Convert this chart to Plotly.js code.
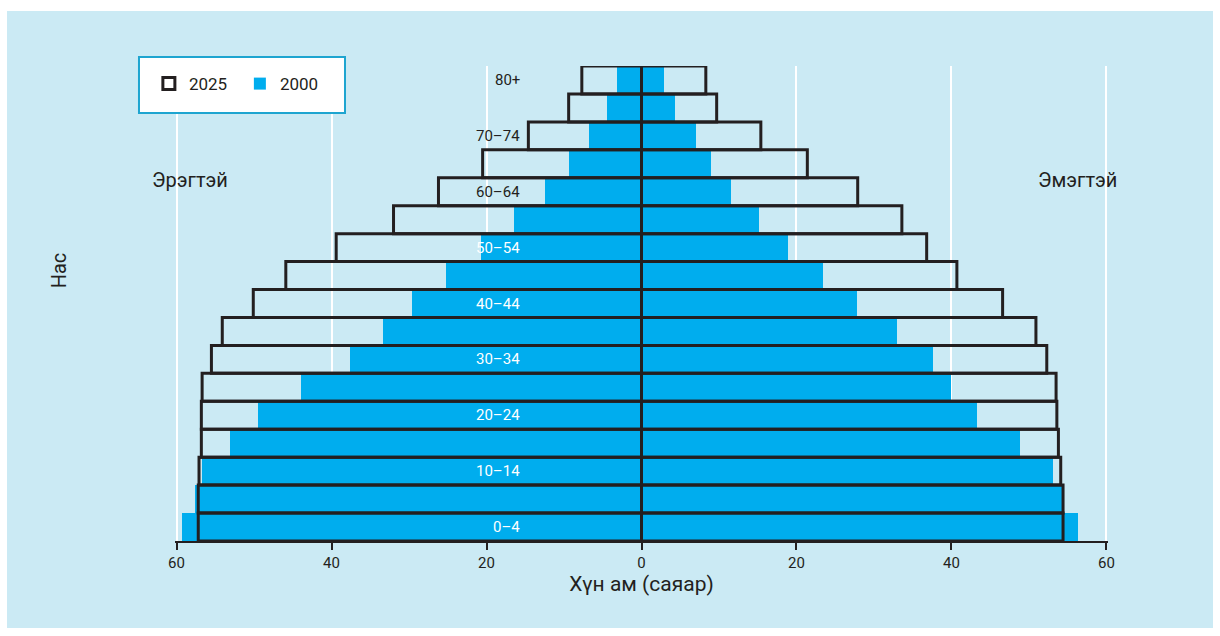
<!DOCTYPE html>
<html>
<head>
<meta charset="utf-8">
<script src="https://cdn.plot.ly/plotly-3.0.1.min.js"></script>
<style>
  html, body { margin: 0; padding: 0; background: #ffffff; width: 1220px; height: 636px; overflow: hidden; }
  #chart { position: absolute; left: 7px; top: 11px; width: 1206px; height: 617px; }
</style>
</head>
<body>
<div id="chart"></div>
<script>
// Age groups (bottom to top)
var ageGroups = ['0–4','5–9','10–14','15–19','20–24','25–29','30–34','35–39','40–44','45–49','50–54','55–59','60–64','65–69','70–74','75–79','80+'];

// Population, millions
var male2000   = [59.3, 57.6, 56.7, 53.1, 49.5, 43.9, 37.6, 33.3, 29.6, 25.2, 20.7, 16.5, 12.4, 9.3, 6.8, 4.4, 3.2];
var female2000 = [56.3, 54.3, 53.1, 48.8, 43.3, 39.9, 37.6, 33.0, 27.8, 23.4, 18.9, 15.1, 11.6, 9.0, 7.0, 4.3, 2.9];
var male2025   = [57.2, 57.2, 57.1, 56.8, 56.8, 56.7, 55.5, 54.1, 50.1, 45.9, 39.4, 32.0, 26.2, 20.5, 14.6, 9.4, 7.7];
var female2025 = [54.4, 54.4, 54.1, 53.8, 53.6, 53.5, 52.3, 50.9, 46.6, 40.7, 36.8, 33.6, 27.9, 21.4, 15.4, 9.7, 8.3];

var tickValues = [-60, -40, -20, 0, 20, 40, 60];
var tickLabels = ['60', '40', '20', '0', '20', '40', '60'];

var FONT = '"Roboto", "Liberation Sans", sans-serif';
var BLUE = '#00adee';
var DARK = '#231f20';

function neg(a) { return a.map(function (v) { return -v; }); }

var traces = [
  { type: 'bar', orientation: 'h', name: '2000', legendgroup: '2000', legendrank: 2,
    y: ageGroups, x: neg(male2000), marker: { color: BLUE, line: { width: 0 } }, hoverinfo: 'skip' },
  { type: 'bar', orientation: 'h', name: '2000', legendgroup: '2000', showlegend: false,
    y: ageGroups, x: female2000, marker: { color: BLUE, line: { width: 0 } }, hoverinfo: 'skip' },
  { type: 'bar', orientation: 'h', name: '2025', legendgroup: '2025', legendrank: 1,
    y: ageGroups, x: neg(male2025), marker: { color: 'rgba(0,0,0,0)', line: { color: DARK, width: 3 } }, hoverinfo: 'skip' },
  { type: 'bar', orientation: 'h', name: '2025', legendgroup: '2025', showlegend: false,
    y: ageGroups, x: female2025, marker: { color: 'rgba(0,0,0,0)', line: { color: DARK, width: 3 } }, hoverinfo: 'skip' }
];

var annotations = [];
for (var i = 0; i < ageGroups.length; i += 2) {
  annotations.push({
    x: -15.4, y: ageGroups[i], xref: 'x', yref: 'y', text: ageGroups[i], showarrow: false,
    xanchor: 'right', yanchor: 'middle',
    font: { family: FONT, size: 15, color: male2000[i] > 18 ? '#ffffff' : DARK }
  });
}
annotations.push({ x: -58.3, y: 0.76, xref: 'x', yref: 'paper', text: 'Эрэгтэй', showarrow: false,
  xanchor: 'center', yanchor: 'middle', font: { family: FONT, size: 20, color: DARK } });
annotations.push({ x: 56.3, y: 0.76, xref: 'x', yref: 'paper', text: 'Эмэгтэй', showarrow: false,
  xanchor: 'center', yanchor: 'middle', font: { family: FONT, size: 20, color: DARK } });
// Y axis title (placed above centre, as in the original)
annotations.push({ x: -0.124, y: 0.5705, xref: 'paper', yref: 'paper', text: 'Нас', showarrow: false,
  textangle: -90, xanchor: 'center', yanchor: 'middle', font: { family: FONT, size: 20, color: DARK } });

var layout = {
  width: 1206, height: 617,
  paper_bgcolor: '#cbeaf4', plot_bgcolor: 'rgba(0,0,0,0)',
  margin: { l: 168, r: 105, t: 55, b: 87 },
  barmode: 'overlay', bargap: 0,
  font: { family: FONT, color: DARK },
  xaxis: {
    range: [-60.2, 60.2], tickvals: tickValues, ticktext: tickLabels,
    showgrid: true, gridcolor: '#ffffff', gridwidth: 2,
    zeroline: true, zerolinecolor: DARK, zerolinewidth: 3,
    showline: true, linecolor: DARK, linewidth: 2,
    ticks: 'outside', ticklen: 7, tickwidth: 2, tickcolor: DARK,
    tickfont: { family: FONT, size: 15, color: DARK },
    title: { text: 'Хүн ам (саяар)', font: { family: FONT, size: 21, color: DARK }, standoff: 0 },
    fixedrange: true
  },
  yaxis: {
    type: 'category', range: [-0.5, 16.5],
    showticklabels: false, showgrid: false, zeroline: false, showline: false, ticks: '',
    fixedrange: true
  },
  showlegend: true,
  legend: {
    orientation: 'h', x: -0.028, y: 0.962, xanchor: 'left', yanchor: 'middle',
    bgcolor: 'rgba(0,0,0,0)', borderwidth: 0, entrywidth: 46, entrywidthmode: 'pixels',
    font: { family: FONT, size: 17, color: DARK },
    itemclick: false, itemdoubleclick: false
  },
  shapes: [
    { type: 'rect', xref: 'paper', yref: 'paper', x0: -0.0386, x1: 0.1822, y0: 0.901, y1: 1.019,
      fillcolor: '#ffffff', line: { color: '#1ea5d0', width: 2 }, layer: 'above' }
  ],
  annotations: annotations
};

Plotly.newPlot('chart', traces, layout, { displayModeBar: false, staticPlot: true });
</script>
</body>
</html>
